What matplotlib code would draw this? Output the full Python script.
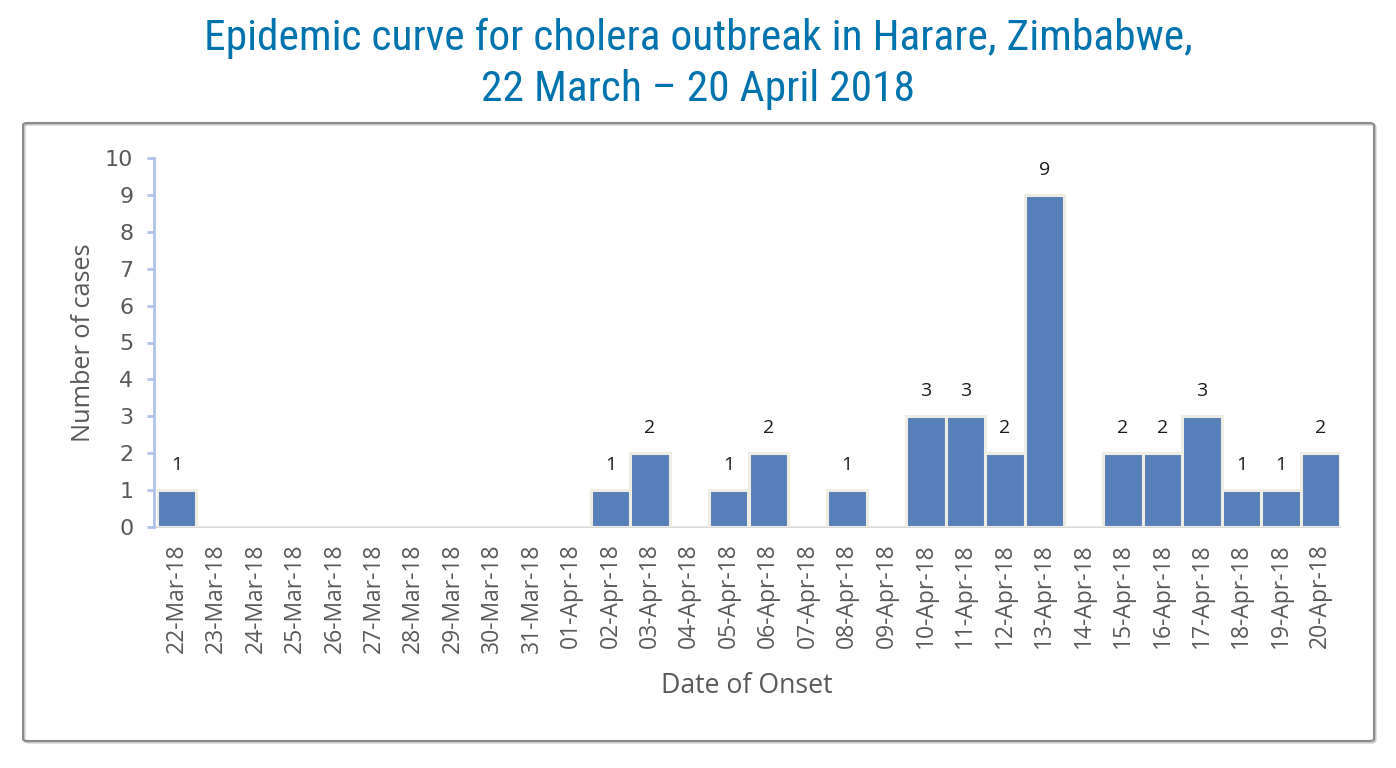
import matplotlib
matplotlib.use("Agg")
import matplotlib.pyplot as plt
from matplotlib.patches import FancyBboxPatch
from matplotlib import font_manager

dates = ["22-Mar-18", "23-Mar-18", "24-Mar-18", "25-Mar-18", "26-Mar-18", "27-Mar-18",
         "28-Mar-18", "29-Mar-18", "30-Mar-18", "31-Mar-18", "01-Apr-18", "02-Apr-18",
         "03-Apr-18", "04-Apr-18", "05-Apr-18", "06-Apr-18", "07-Apr-18", "08-Apr-18",
         "09-Apr-18", "10-Apr-18", "11-Apr-18", "12-Apr-18", "13-Apr-18", "14-Apr-18",
         "15-Apr-18", "16-Apr-18", "17-Apr-18", "18-Apr-18", "19-Apr-18", "20-Apr-18"]
cases = [1, 0, 0, 0, 0, 0, 0, 0, 0, 0, 0, 1, 2, 0, 1, 2, 0, 1, 0, 3, 3, 2, 9, 0,
         2, 2, 3, 1, 1, 2]
y_ticks = list(range(0, 11))

avail = {f.name for f in font_manager.fontManager.ttflist}


def pick(cands):
    for c in cands:
        if c in avail:
            return c
    return "DejaVu Sans"


title_font = pick(["Roboto Condensed", "Archivo Narrow", "Barlow Semi Condensed"])
body_font = pick(["Open Sans", "Lato", "DejaVu Sans"])

W, H = 1396, 768
fig = plt.figure(figsize=(W / 100, H / 100), dpi=100)
fig.patch.set_facecolor("white")

# outer frame (with a faint shadow on right/bottom)
shadow = FancyBboxPatch((24.5 / W, 1 - 742.5 / H), (1374 - 23) / W, (741 - 123) / H,
                        boxstyle="round,pad=0,rounding_size=0.003",
                        transform=fig.transFigure, facecolor="none",
                        edgecolor="#c8c8c8", linewidth=1.5, zorder=-6)
fig.patches.append(shadow)
frame = FancyBboxPatch((23 / W, 1 - 741 / H), (1374 - 23) / W, (741 - 123) / H,
                       boxstyle="round,pad=0,rounding_size=0.003",
                       transform=fig.transFigure, facecolor="none",
                       edgecolor="#8a8a8a", linewidth=1.5, zorder=-5)
fig.patches.append(frame)

fig.text(0.5, 1 - 38 / H, "Epidemic curve for cholera outbreak in Harare, Zimbabwe,",
         ha="center", va="center", color="#0072AE", fontsize=31.2, family=title_font)
fig.text(0.5, 1 - 90 / H, "22 March \u2013 20 April 2018",
         ha="center", va="center", color="#0072AE", fontsize=31.2, family=title_font)

left, right = 157 / W, 1340 / W
bottom, top = 1 - 527 / H, 1 - 158 / H
ax = fig.add_axes([left, bottom, right - left, top - bottom])
ax.set_facecolor("none")

x = list(range(len(dates)))
ax.bar(x, cases, width=1.0, color="#5880B8", edgecolor="#EEEDE3", linewidth=2.2, zorder=3)
for xi, v in zip(x, cases):
    if v > 0:
        ax.annotate(str(v), (xi, v), xytext=(0, 18), textcoords="offset points",
                    ha="center", va="center", fontsize=14, color="#1a1a1a",
                    family=body_font)

ax.set_xlim(-0.5, len(dates) - 0.5)
ax.set_ylim(0, 10)
ax.set_yticks(y_ticks)
ax.set_xticks(x)
ax.set_xticklabels(dates, rotation=90, fontsize=16.5, color="#595959", family=body_font)
for lab in ax.get_yticklabels():
    lab.set_family(body_font)
ax.tick_params(axis="y", labelsize=16, labelcolor="#595959", color="#AFC3E8",
               length=5, width=2, pad=10)
ax.tick_params(axis="x", length=0, pad=12)

for s in ["top", "right"]:
    ax.spines[s].set_visible(False)
ax.spines["left"].set_color("#AFC3E8")
ax.spines["left"].set_linewidth(2)
ax.spines["left"].set_position(("outward", 2))
ax.spines["bottom"].set_color("#D9D9D9")
ax.spines["bottom"].set_linewidth(1.5)

fig.text(83 / W, 1 - 343 / H, "Number of cases", rotation=90, ha="center", va="center",
         fontsize=18.2, color="#595959", family=body_font)
fig.text(747 / W, 1 - 686 / H, "Date of Onset", ha="center", va="center",
         fontsize=19.2, color="#595959", family=body_font)

fig.savefig("out.png", dpi=100, facecolor="white")
